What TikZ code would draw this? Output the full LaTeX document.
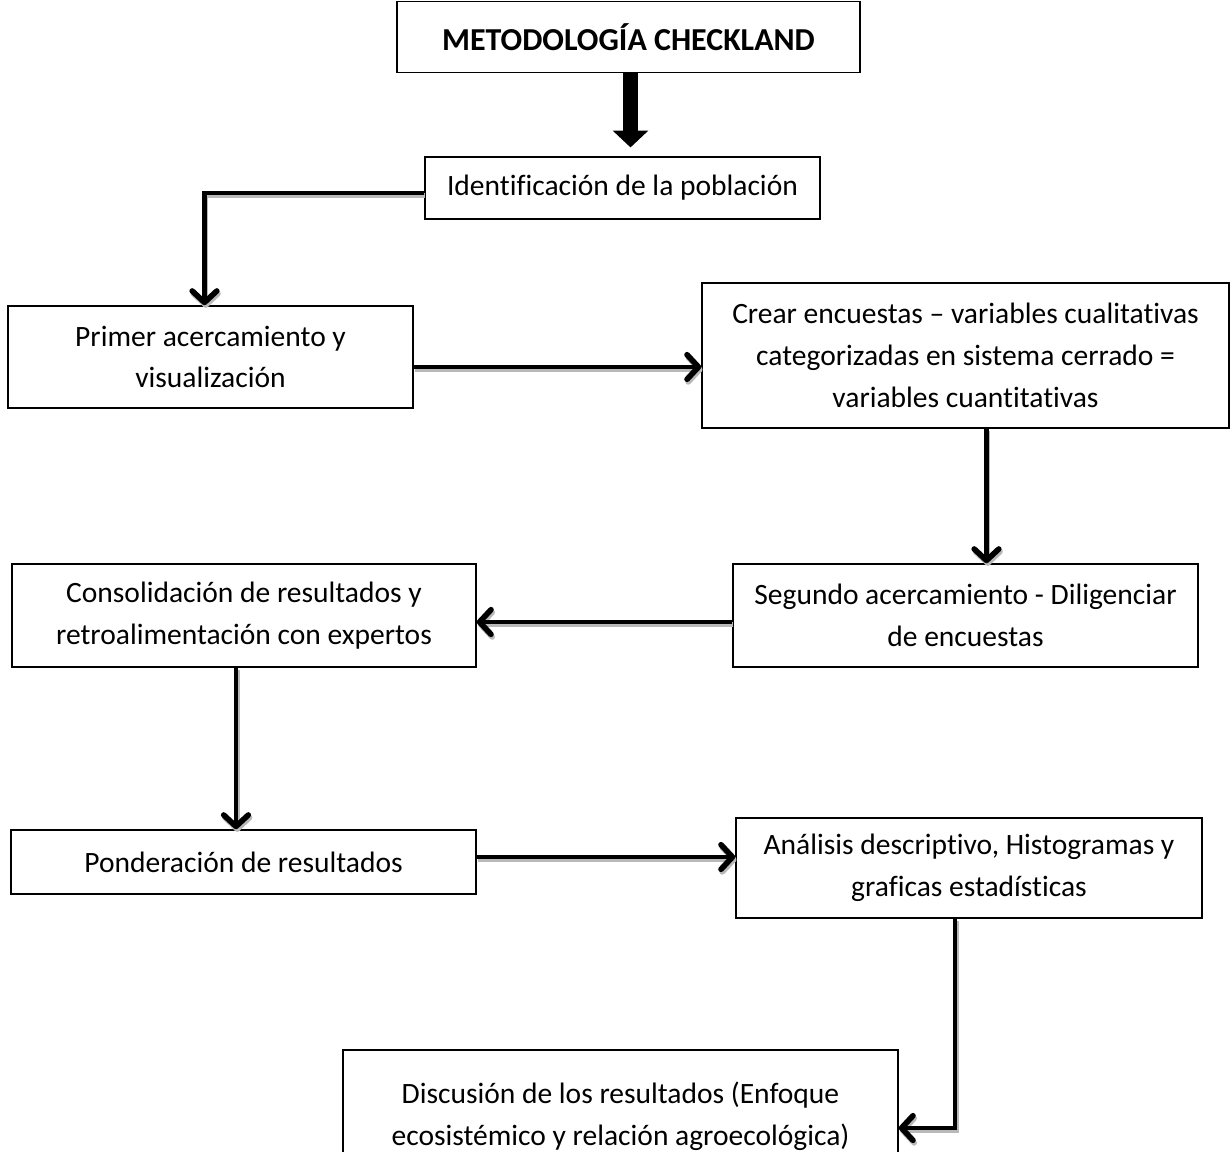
\documentclass[tikz,border=0pt]{standalone}
\usepackage{fontspec}
\setmainfont{Carlito}[Ligatures=NoCommon]
\usepackage{tikz}
\usetikzlibrary{arrows.meta,positioning,calc}

% cada conector con su sombra gris
\newcommand{\conector}[1]{%
  \draw[sombra] #1;
  \draw[flecha] #1;}

\begin{document}
\begin{tikzpicture}[x=0.02cm, y=-0.02cm,
    paso/.style={draw, line width=0.9pt, inner sep=0pt, align=center, font=\fontsize{16.8}{23.8}\selectfont, fill=white},
    flecha/.style={line width=2.7pt, -{Straight Barb[length=6.5pt,width=14pt,line width=3.2pt,round]}},
    sombra/.style={flecha, draw=gray!55, transform canvas={shift={(0.7pt,-1.5pt)}}},
    bloque/.style={line width=9pt, -{Triangle[length=9.6pt,width=19.8pt]}, shorten >=5pt}
]
\useasboundingbox (0,0) rectangle (1231,1152);

\node[paso, minimum width=9.26cm, minimum height=1.42cm, font=\fontsize{18.2}{23.8}\selectfont\bfseries] (titulo) at (628.5,37) {METODOLOGÍA CHECKLAND};
\node[paso, minimum width=7.9cm, minimum height=1.24cm] (ident) at (622.5,188) {Identificación de la población};
\node[paso, minimum width=8.1cm, minimum height=2.04cm] (primer) at (210.5,357) {Primer acercamiento y\\visualización};
\node[paso, minimum width=10.54cm, minimum height=2.9cm] (crear) at (965.5,355.5) {Crear encuestas – variables cualitativas\\categorizadas en sistema cerrado =\\variables cuantitativas};
\node[paso, minimum width=9.3cm, minimum height=2.06cm] (segundo) at (965.5,615.5) {Segundo acercamiento - Diligenciar\\de encuestas};
\node[paso, minimum width=9.28cm, minimum height=2.06cm] (consol) at (244,615.5) {Consolidación de resultados y\\retroalimentación con expertos};
\node[paso, minimum width=9.3cm, minimum height=1.28cm] (ponder) at (243.5,862) {Ponderación de resultados};
\node[paso, minimum width=9.32cm, minimum height=2.0cm] (analisis) at (969,868) {Análisis descriptivo, Histogramas y\\graficas estadísticas};
\node[paso, minimum width=11.1cm, minimum height=2.64cm] (discusion) at (620.5,1116) {Discusión de los resultados (Enfoque\\ecosistémico y relación agroecológica)};

% conectores
\draw[bloque] ([shift={(2,0)}]titulo.south) -- ([shift={(2,0)}]titulo.south |- ident.north);
\conector{([shift={(0,5)}]ident.west) -| ([shift={(-6,0)}]primer.north)}
\conector{([shift={(0,10)}]primer.east) -- ([shift={(0,10)}]primer.east -| crear.west)}
\conector{([shift={(21,0)}]crear.south) -- ([shift={(21,0)}]segundo.north)}
\conector{([shift={(0,6.5)}]segundo.west) -- ([shift={(0,6.5)}]consol.east)}
\conector{([shift={(-8,0)}]consol.south) -- ([shift={(-8,0)}]consol.south |- ponder.north)}
\conector{([shift={(0,-5)}]ponder.east) -- ([shift={(0,-5)}]ponder.east -| analisis.west)}
\conector{([shift={(-14,0)}]analisis.south) |- ([shift={(0,12)}]discusion.east)}
\end{tikzpicture}
\end{document}
